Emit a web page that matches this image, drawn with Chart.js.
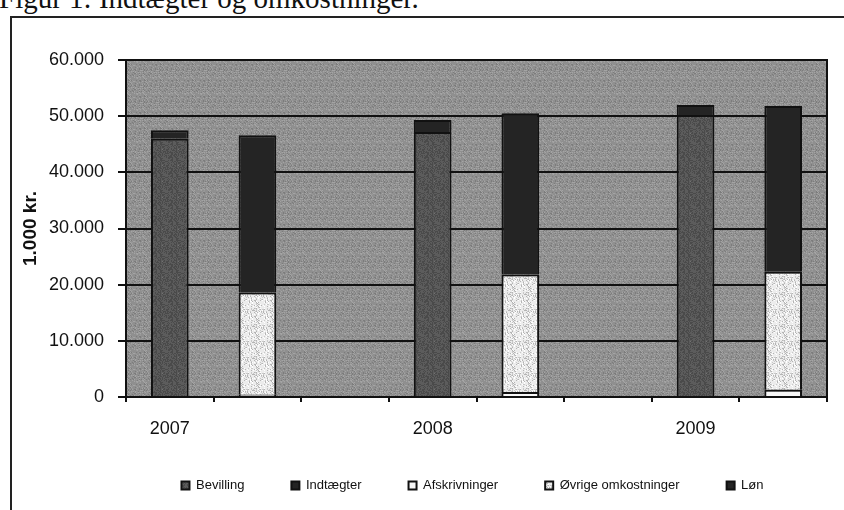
<!DOCTYPE html>
<html lang="da">
<head>
  <meta charset="UTF-8">
  <title>Figur 1: Indtægter og omkostninger</title>
  <script src="https://cdn.jsdelivr.net/npm/chart.js"></script>
  <style>
    html, body { margin: 0; padding: 0; background: #fff; }
    body { width: 844px; height: 510px; position: relative; overflow: hidden; font-family: "Liberation Sans", Arial, sans-serif; }
    #title { position: absolute; left: -1px; top: -16px; font-family: "Liberation Serif", "Times New Roman", serif; font-size: 29px; line-height: 1; color: #111; white-space: nowrap; }
    #frameTop { position: absolute; left: 10px; top: 16px; width: 834px; height: 2px; background: #222; }
    #frameLeft { position: absolute; left: 10px; top: 16px; width: 2px; height: 494px; background: #222; }
    #wrap { position: absolute; left: 0; top: 0; width: 844px; height: 510px; }
  </style>
</head>
<body>
  <div id="title">Figur 1: Indtægter og omkostninger.</div>
  <div id="frameTop"></div>
  <div id="frameLeft"></div>
  <div id="wrap"><canvas id="chart" width="844" height="510"></canvas></div>

  <script>
    // values in 1.000 kr.
    const years = ['2007', '2008', '2009'];
    const bevilling = [46000, 47200, 50200];
    const indtaegter = [1500, 2100, 1800];
    const afskrivninger = [400, 900, 1300];
    const ovrige = [18200, 20900, 21000];
    const loen = [28000, 28700, 29500];
    const yTicks = [0, 10000, 20000, 30000, 40000, 50000, 60000];

    // each year gets three slots: income column, cost column, empty gap
    const labels = [];
    years.forEach((y, i) => {
      labels.push(y, '');
      if (i < years.length - 1) labels.push('');
    });
    function slot(arr, offset) {
      const out = labels.map(() => null);
      arr.forEach((v, i) => { out[i * 3 + offset] = v; });
      return out;
    }

    // speckled fills to mimic the printed hatching
    function speckle(base, dots, density) {
      const c = document.createElement('canvas');
      c.width = 16; c.height = 16;
      const g = c.getContext('2d');
      g.fillStyle = base;
      g.fillRect(0, 0, 16, 16);
      let s = 7;
      for (let i = 0; i < 256; i++) {
        s = (s * 1103515245 + 12345) & 0x7fffffff;
        if ((s % 100) < density) {
          g.fillStyle = dots[s % dots.length];
          g.fillRect(i % 16, Math.floor(i / 16), 1, 1);
        }
      }
      return g.createPattern(c, 'repeat');
    }
    const ctx = document.getElementById('chart').getContext('2d');
    const bgFill = speckle('#8f8f8f', ['#7c7c7c', '#a4a4a4', '#989898'], 45);
    const bevFill = speckle('#5c5c5c', ['#4a4a4a', '#727272'], 45);
    const ovrFill = speckle('#ececec', ['#c8c8c8', '#b4b4b4', '#ffffff'], 40);

    const fmt = v => String(v).replace(/\B(?=(\d{3})+(?!\d))/g, '.');

    const plotBg = {
      id: 'plotBg',
      afterLayout(chart) {
        // legend sits a little right of centre and higher in the original
        const lg = chart.legend;
        lg.left += 52; lg.right += 52;
        lg.top -= 10; lg.bottom -= 10;
      },
      beforeDraw(chart) {
        const a = chart.chartArea, c = chart.ctx;
        c.save();
        c.fillStyle = bgFill;
        c.fillRect(a.left, a.top, a.right - a.left, a.bottom - a.top);
        c.restore();
      },
      afterDraw(chart) {
        const a = chart.chartArea, c = chart.ctx;
        c.save();
        c.strokeStyle = '#111';
        c.lineWidth = 2;
        c.strokeRect(a.left, a.top, a.right - a.left, a.bottom - a.top);
        c.restore();
      }
    };

    new Chart(ctx, {
      type: 'bar',
      data: {
        labels: labels,
        datasets: [
          { label: 'Bevilling', data: slot(bevilling, 0), backgroundColor: bevFill },
          { label: 'Indtægter', data: slot(indtaegter, 0), backgroundColor: '#242424' },
          { label: 'Afskrivninger', data: slot(afskrivninger, 1), backgroundColor: '#f7f7f7' },
          { label: 'Øvrige omkostninger', data: slot(ovrige, 1), backgroundColor: ovrFill },
          { label: 'Løn', data: slot(loen, 1), backgroundColor: '#242424' }
        ]
      },
      options: {
        responsive: false,
        animation: false,
        layout: { padding: { left: 14, right: 17, top: 60, bottom: 8 } },
        datasets: {
          bar: {
            borderColor: '#111',
            borderWidth: 2,
            barPercentage: 0.43,
            categoryPercentage: 1,
            skipNull: false
          }
        },
        scales: {
          x: {
            stacked: true,
            grid: { offset: true, drawOnChartArea: false, drawTicks: true, tickLength: 5, color: '#111', lineWidth: 2 },
            border: { color: '#111', width: 2 },
            ticks: {
              autoSkip: false, maxRotation: 0, padding: 16,
              color: '#111', font: { family: 'Liberation Sans, Arial', size: 18 }
            },
            afterFit(scale) { scale.height = 45; }
          },
          y: {
            stacked: true,
            min: 0,
            max: 60000,
            afterBuildTicks(scale) { scale.ticks = yTicks.map(v => ({ value: v })); },
            grid: { color: '#111', lineWidth: 2, tickLength: 8 },
            border: { color: '#111', width: 2 },
            ticks: {
              callback: v => fmt(v), padding: 14,
              color: '#111', font: { family: 'Liberation Sans, Arial', size: 18 }
            },
            title: {
              display: true, text: '1.000 kr.', padding: { top: 5, bottom: 0 },
              color: '#111', font: { family: 'Liberation Sans, Arial', size: 19, weight: 'bold' }
            },
            afterFit(scale) { scale.width = 112; }
          }
        },
        plugins: {
          legend: {
            position: 'bottom',
            maxHeight: 60,
            labels: {
              boxWidth: 8, boxHeight: 8, padding: 47,
              color: '#111', font: { family: 'Liberation Sans, Arial', size: 13 }
            }
          },
          tooltip: { enabled: false }
        }
      },
      plugins: [plotBg]
    });
  </script>
</body>
</html>
